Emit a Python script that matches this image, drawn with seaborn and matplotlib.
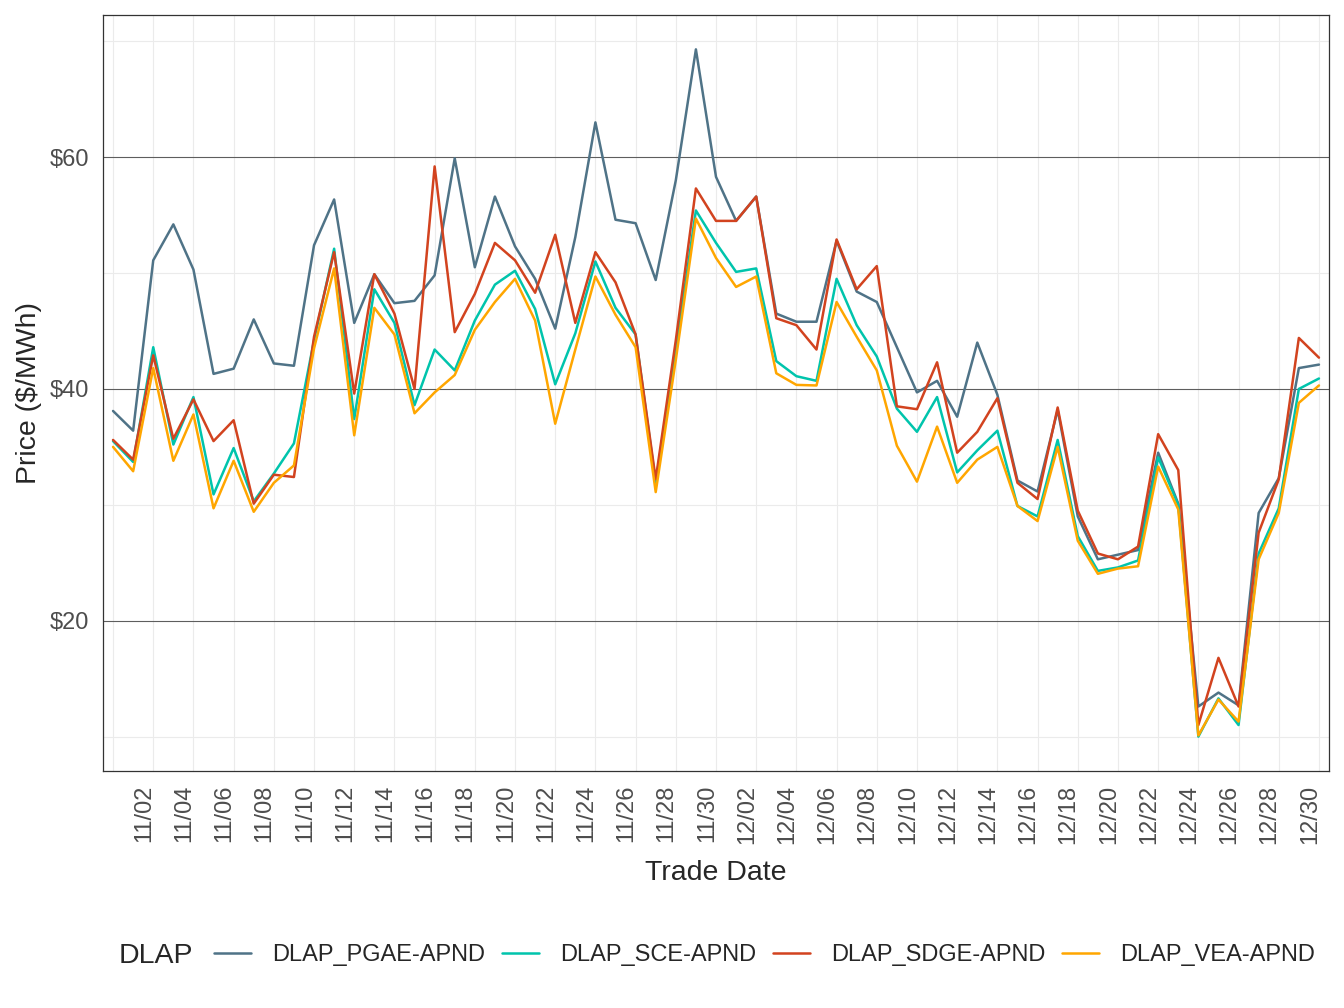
import numpy as np
import pandas as pd
import seaborn as sns
import matplotlib
matplotlib.use("Agg")
import matplotlib.pyplot as plt
import matplotlib.dates as mdates
from matplotlib.ticker import FuncFormatter, FixedLocator

# trade dates 11/01 .. 12/31
dates = pd.date_range("2021-11-01", "2021-12-31", freq="D")

dlaps = ["DLAP_PGAE-APND", "DLAP_SCE-APND", "DLAP_SDGE-APND", "DLAP_VEA-APND"]

pgae = [38.1, 36.4, 51.1, 54.2, 50.3, 41.3, 41.75, 46.0, 42.2, 42.0,
        52.4, 56.35, 45.7, 49.9, 47.4, 47.6, 49.8, 59.9, 50.5, 56.6,
        52.3, 49.5, 45.2, 53.1, 63.0, 54.6, 54.3, 49.4, 58.0, 69.3,
        58.3, 54.5, 56.6, 46.5, 45.8, 45.8, 52.8, 48.4, 47.5, 43.6,
        39.7, 40.7, 37.6, 44.0, 39.5, 32.1, 31.15, 38.2, 29.0, 25.3,
        25.7, 26.1, 34.5, 30.1, 12.6, 13.8, 12.7, 29.3, 32.3, 41.8, 42.1]

sce = [35.5, 33.7, 43.6, 35.2, 39.3, 30.9, 34.9, 30.3, 32.7, 35.3,
       44.2, 52.1, 37.4, 48.6, 45.7, 38.6, 43.4, 41.6, 45.9, 49.0,
       50.2, 46.9, 40.4, 44.8, 51.0, 47.0, 44.7, 31.9, 43.4, 55.4,
       52.6, 50.1, 50.4, 42.4, 41.1, 40.7, 49.5, 45.5, 42.8, 38.3,
       36.3, 39.3, 32.8, 34.7, 36.4, 29.9, 29.0, 35.6, 27.3, 24.3,
       24.6, 25.2, 34.1, 30.0, 10.0, 13.3, 11.0, 25.8, 29.7, 40.0, 40.9]

sdge = [35.6, 33.9, 42.9, 35.7, 39.1, 35.5, 37.3, 30.1, 32.6, 32.4,
        44.5, 51.8, 39.6, 49.9, 46.5, 40.0, 59.2, 44.9, 48.2, 52.6,
        51.1, 48.3, 53.3, 45.7, 51.8, 49.2, 44.7, 32.2, 44.2, 57.3,
        54.5, 54.5, 56.6, 46.1, 45.5, 43.4, 52.9, 48.6, 50.6, 38.5,
        38.25, 42.3, 34.5, 36.3, 39.2, 31.9, 30.5, 38.4, 29.5, 25.8,
        25.3, 26.4, 36.1, 33.0, 11.0, 16.8, 12.6, 27.6, 32.2, 44.4, 42.7]

vea = [35.0, 32.9, 41.8, 33.8, 37.8, 29.7, 33.8, 29.4, 31.9, 33.4,
       43.5, 50.4, 36.0, 47.0, 44.7, 37.9, 39.7, 41.2, 45.1, 47.5,
       49.5, 45.9, 37.0, 43.4, 49.7, 46.4, 43.6, 31.1, 42.5, 54.7,
       51.3, 48.8, 49.7, 41.35, 40.35, 40.3, 47.5, 44.5, 41.6, 35.1,
       32.0, 36.75, 31.9, 33.9, 35.0, 29.9, 28.6, 35.0, 26.9, 24.05,
       24.5, 24.7, 33.3, 29.6, 10.1, 13.2, 11.3, 25.3, 29.3, 38.8, 40.3]

colors = ["#4F7387", "#00C4AC", "#D2431F", "#FFA600"]

df = pd.concat([
    pd.DataFrame({"date": dates, "price": vals, "dlap": name})
    for name, vals in zip(dlaps, [pgae, sce, sdge, vea])
], ignore_index=True)

sns.set_style("white")
plt.rcParams["font.family"] = ["Liberation Sans", "DejaVu Sans"]

W, H = 1344, 1008
fig = plt.figure(figsize=(W / 100, H / 100), dpi=100)
L, R, T, B = 103, 1329, 15, 771
ax = fig.add_axes([L / W, (H - B) / H, (R - L) / W, (B - T) / H])

sns.lineplot(data=df, x="date", y="price", hue="dlap", hue_order=dlaps,
             palette=colors, linewidth=1.8, ax=ax, legend=True, zorder=3)

# limits (ggplot-like expansion)
lo, hi = df["price"].min(), df["price"].max()
pad = (hi - lo) * 0.05
ax.set_ylim(lo - pad, hi + pad)
half = pd.Timedelta(hours=12)
ax.set_xlim(dates[0] - half, dates[-1] + half)

# grid
ax.yaxis.set_major_locator(FixedLocator([20, 40, 60]))
ax.yaxis.set_minor_locator(FixedLocator([10, 30, 50, 70]))
ax.yaxis.set_major_formatter(FuncFormatter(lambda v, p: f"${v:.0f}"))
ax.set_xticks(mdates.date2num(dates[1::2]))
ax.set_xticks(mdates.date2num(dates[0::2]), minor=True)
ax.xaxis.set_major_formatter(mdates.DateFormatter("%m/%d"))

ax.grid(False)
ax.grid(which="major", axis="y", color="#5E5E5E", linewidth=0.8, zorder=1)
ax.grid(which="minor", axis="y", color="#EBEBEB", linewidth=0.8, zorder=1)
ax.grid(which="minor", axis="x", color="#EBEBEB", linewidth=0.8, zorder=1)
ax.set_axisbelow(True)

for s in ax.spines.values():
    s.set_color("#333333")
    s.set_linewidth(0.9)

ax.tick_params(axis="both", which="major", length=5, width=1.0, color="#333333",
               labelcolor="#4D4D4D", labelsize=17)
ax.tick_params(axis="x", which="major", pad=5)
ax.tick_params(axis="y", which="major", pad=5)
ax.tick_params(which="minor", length=0)
for lab in ax.get_xticklabels():
    lab.set_rotation(90)
    lab.set_rotation_mode("anchor")
    lab.set_ha("right")
    lab.set_va("top")

ax.set_xlabel("")
ax.set_ylabel("")
fig.text(716 / W, (H - 873) / H, "Trade Date", ha="center", va="center", fontsize=20.5)
fig.text(29 / W, (H - 393) / H, "Price ($/MWh)", ha="center", va="center",
         rotation=90, fontsize=20.5)

# legend at bottom, title on the left
handles, labels = ax.get_legend_handles_labels()
ax.get_legend().remove()
fig.text(119 / W, (H - 956) / H, "DLAP", ha="left", va="center", fontsize=20.5)
fig.legend(handles, labels, loc="center left", bbox_to_anchor=(214 / W, (H - 955) / H),
           ncol=4, frameon=False, fontsize=17, handlelength=1.57, handletextpad=0.88,
           columnspacing=0.72, borderpad=0, borderaxespad=0)
for lh in fig.legends[0].get_lines():
    lh.set_linewidth(1.8)

fig.savefig("out.png", dpi=100)
